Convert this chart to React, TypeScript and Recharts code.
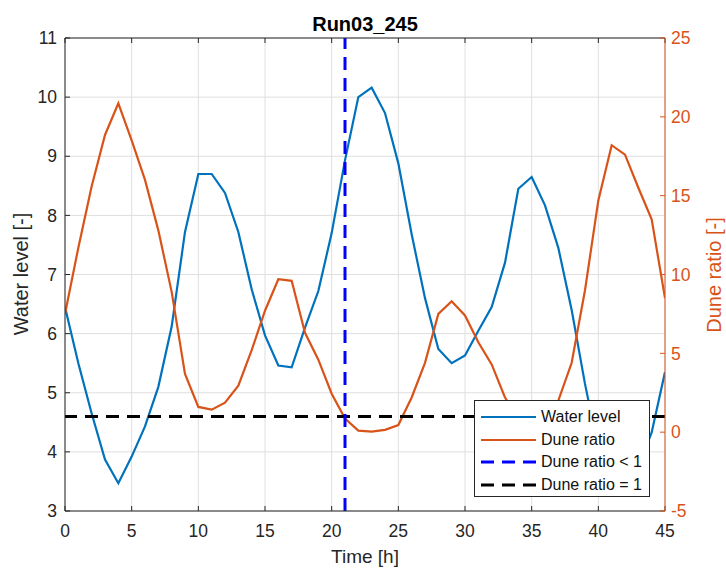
import { CartesianGrid, Line, LineChart, ReferenceLine, XAxis, YAxis } from "recharts";

const hours = [
  0, 1, 2, 3, 4, 5, 6, 7, 8, 9, 10, 11, 12, 13, 14, 15, 16, 17, 18, 19, 20, 21, 22,
  23, 24, 25, 26, 27, 28, 29, 30, 31, 32, 33, 34, 35, 36, 37, 38, 39, 40, 41, 42, 43,
  44, 45,
];

const waterLevel = [
  6.45, 5.5, 4.65, 3.87, 3.47, 3.92, 4.43, 5.1, 6.12, 7.72, 8.7, 8.7, 8.38, 7.72, 6.75,
  5.97, 5.46, 5.43, 6.1, 6.72, 7.7, 8.93, 10.0, 10.16, 9.73, 8.88, 7.68, 6.6, 5.74, 5.5,
  5.63, 6.05, 6.45, 7.2, 8.45, 8.65, 8.17, 7.45, 6.4, 5.15, 4.05, 3.6, 3.45, 3.75, 4.33,
  5.35,
];

const duneRatio = [
  7.5, 11.7, 15.6, 18.85, 20.86, 18.5, 16.0, 12.8, 8.9, 3.7, 1.6, 1.43, 1.87, 2.95, 5.2,
  7.7, 9.7, 9.6, 6.3, 4.6, 2.44, 0.86, 0.1, 0.03, 0.15, 0.45, 2.2, 4.4, 7.5, 8.3, 7.4,
  5.7, 4.3, 2.2, 0.9, 0.3, 0.6, 2.0, 4.4, 9.0, 14.7, 18.2, 17.6, 15.5, 13.5, 8.5,
];

const timeTicks = [0, 5, 10, 15, 20, 25, 30, 35, 40, 45];
const levelTicks = [3, 4, 5, 6, 7, 8, 9, 10, 11];
const ratioTicks = [-5, 0, 5, 10, 15, 20, 25];

const breachHour = 21;
const ratioThreshold = 1;

const BLUE = "#0072BD";
const ORANGE = "#D95319";
const AXIS = "#262626";
const FONT = '"Liberation Sans", Arial, Helvetica, sans-serif';

const legendItems = [
  { label: "Water level", color: BLUE, width: 2.2, dash: undefined },
  { label: "Dune ratio", color: ORANGE, width: 2.2, dash: undefined },
  { label: "Dune ratio < 1", color: "#0000FF", width: 3, dash: "13 8" },
  { label: "Dune ratio = 1", color: "#000000", width: 3, dash: "13 8" },
];

const data = hours.map((h, i) => ({ h, wl: waterLevel[i], dr: duneRatio[i] }));

function ChartLegend() {
  return (
    <div
      style={{
        position: "absolute",
        left: 474,
        top: 400,
        width: 174,
        height: 95,
        background: "#fff",
        border: `1px solid ${AXIS}`,
        fontFamily: FONT,
        fontSize: 16,
        color: "#111",
      }}
    >
      {legendItems.map((item, i) => (
        <div
          key={item.label}
          style={{ position: "absolute", left: 0, top: 5 + i * 22.5, height: 22, display: "flex", alignItems: "center" }}
        >
          <svg width={66} height={22}>
            <line
              x1={6}
              x2={61}
              y1={11}
              y2={11}
              stroke={item.color}
              strokeWidth={item.width}
              strokeDasharray={item.dash}
            />
          </svg>
          <span style={{ whiteSpace: "nowrap" }}>{item.label}</span>
        </div>
      ))}
    </div>
  );
}

export default function App() {
  return (
    <div style={{ position: "absolute", left: 0, top: 0, width: 726, height: 568, background: "#fff", fontFamily: FONT }}>
      <LineChart width={726} height={568} data={data} margin={{ top: 33, right: 0, bottom: 0, left: 0 }}>
        <CartesianGrid stroke="#dfdfdf" yAxisId="left" />
        <XAxis
          dataKey="h"
          type="number"
          domain={[0, 45]}
          ticks={timeTicks}
          height={57}
          stroke={AXIS}
          tickSize={-5}
          tickMargin={19}
          tick={{ fill: AXIS, fontSize: 17.5 }}
          allowDataOverflow
        />
        <XAxis
          xAxisId="top"
          orientation="top"
          type="number"
          domain={[0, 45]}
          ticks={timeTicks}
          height={5}
          stroke={AXIS}
          tickSize={-5}
          tickFormatter={() => ""}
        />
        <YAxis
          yAxisId="left"
          type="number"
          domain={[3, 11]}
          ticks={levelTicks}
          width={65}
          stroke={AXIS}
          tickSize={-5}
          tickMargin={13}
          tick={{ fill: AXIS, fontSize: 17.5 }}
        />
        <YAxis
          yAxisId="right"
          orientation="right"
          type="number"
          domain={[-5, 25]}
          ticks={ratioTicks}
          width={61}
          stroke={ORANGE}
          tickSize={-5}
          tickMargin={11}
          tick={{ fill: ORANGE, fontSize: 17.5 }}
        />
        <Line
          yAxisId="left"
          type="linear"
          dataKey="wl"
          stroke={BLUE}
          strokeWidth={2.2}
          dot={false}
          isAnimationActive={false}
        />
        <Line
          yAxisId="right"
          type="linear"
          dataKey="dr"
          stroke={ORANGE}
          strokeWidth={2.2}
          dot={false}
          isAnimationActive={false}
        />
        <ReferenceLine yAxisId="right" y={ratioThreshold} stroke="#000" strokeWidth={3} strokeDasharray="13 8" />
        <ReferenceLine yAxisId="left" x={breachHour} stroke="#0000FF" strokeWidth={3} strokeDasharray="13 8" />
      </LineChart>

      <div
        style={{
          position: "absolute",
          left: 265,
          top: 14,
          width: 200,
          textAlign: "center",
          fontSize: 20,
          lineHeight: "20px",
          fontWeight: "bold",
          color: "#000",
        }}
      >
        Run03_245
      </div>
      <div
        style={{
          position: "absolute",
          left: 265,
          top: 547,
          width: 200,
          textAlign: "center",
          fontSize: 19,
          lineHeight: "19px",
          color: AXIS,
        }}
      >
        Time [h]
      </div>
      <div
        style={{
          position: "absolute",
          left: 21 - 100,
          top: 274 - 10,
          width: 200,
          textAlign: "center",
          fontSize: 20,
          lineHeight: "20px",
          color: AXIS,
          transform: "rotate(-90deg)",
        }}
      >
        Water level [-]
      </div>
      <div
        style={{
          position: "absolute",
          left: 714 - 100,
          top: 275 - 10,
          width: 200,
          textAlign: "center",
          fontSize: 20,
          lineHeight: "20px",
          color: ORANGE,
          transform: "rotate(-90deg)",
        }}
      >
        Dune ratio [-]
      </div>
      <ChartLegend />
    </div>
  );
}
